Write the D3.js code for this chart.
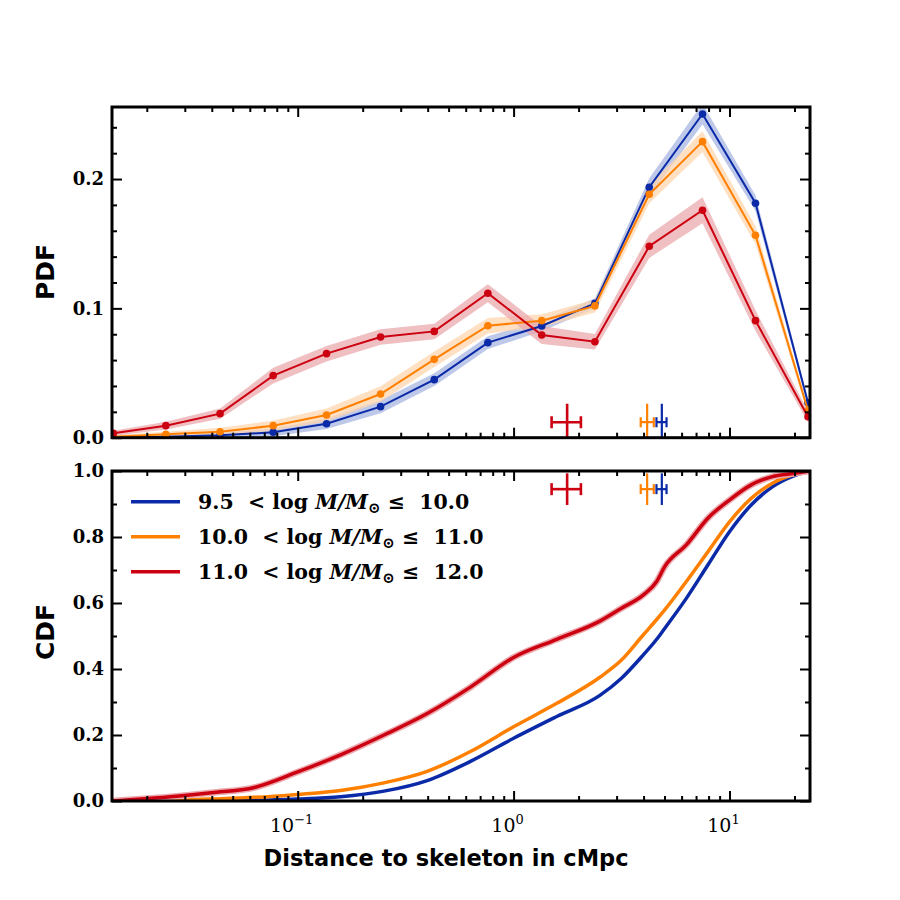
<!DOCTYPE html>
<html>
<head>
<meta charset="utf-8">
<script src="https://cdn.jsdelivr.net/npm/d3@7"></script>
<style>
  body { margin: 0; background: #fff; }
  svg { display: block; }
</style>
</head>
<body>
<div id="chart"></div>
<script>
// PDF bin centres (cMpc)
var pdfX = [0.014, 0.0245, 0.0437, 0.077, 0.136, 0.242, 0.429, 0.76, 1.35, 2.38, 4.25, 7.5, 13.2, 23.1];

// PDF values and 1-sigma half widths per mass bin
var pdfBlue      = [0.0002, 0.0008, 0.0018, 0.0042, 0.0108, 0.024, 0.0449, 0.0735, 0.0864, 0.1039, 0.1937, 0.2503, 0.1813, 0.027];
var pdfBlueErr   = [0.001, 0.001, 0.002, 0.003, 0.004, 0.005, 0.005, 0.005, 0.004, 0.004, 0.007, 0.008, 0.006, 0.003];
var pdfOrange    = [0.0008, 0.0026, 0.0046, 0.0093, 0.0176, 0.0338, 0.0606, 0.0866, 0.0905, 0.1019, 0.1882, 0.2289, 0.1565, 0.021];
var pdfOrangeErr = [0.001, 0.002, 0.003, 0.004, 0.005, 0.006, 0.006, 0.006, 0.005, 0.005, 0.007, 0.008, 0.007, 0.003];
var pdfRed       = [0.0034, 0.0093, 0.0186, 0.048, 0.065, 0.0779, 0.0822, 0.1117, 0.0794, 0.0742, 0.148, 0.1759, 0.0905, 0.0162];
var pdfRedErr    = [0.002, 0.003, 0.004, 0.006, 0.006, 0.006, 0.006, 0.007, 0.007, 0.006, 0.009, 0.01, 0.008, 0.004];

// CDF sample positions (cMpc) and values
var cdfX      = [0.0138, 0.0251, 0.0398, 0.0631, 0.1, 0.158, 0.251, 0.398, 0.631, 1.0, 1.585, 2.51, 3.16, 3.98, 4.6, 5.01, 6.31, 7.94, 10.0, 12.6, 15.8, 20.0, 23.6];
var cdfBlue   = [0, 0, 0.001, 0.002, 0.006, 0.013, 0.03, 0.062, 0.12, 0.19, 0.256, 0.32, 0.372, 0.442, 0.49, 0.523, 0.614, 0.715, 0.816, 0.897, 0.952, 0.986, 1.0];
var cdfOrange = [0, 0.002, 0.006, 0.011, 0.02, 0.032, 0.055, 0.09, 0.15, 0.225, 0.296, 0.375, 0.427, 0.503, 0.55, 0.579, 0.665, 0.755, 0.846, 0.917, 0.963, 0.99, 1.0];
var cdfRed    = [0, 0.012, 0.025, 0.041, 0.088, 0.14, 0.2, 0.265, 0.345, 0.435, 0.49, 0.545, 0.584, 0.624, 0.665, 0.71, 0.776, 0.857, 0.912, 0.958, 0.983, 0.993, 1.0];

// medians with errors (x in cMpc), drawn at fixed heights in each panel
var medX   = [4.86, 4.155, 1.77];
var medXlo = [4.59, 3.88, 1.50];
var medXhi = [5.11, 4.46, 2.05];
var medYpdf = 0.012, medYpdfErr = 0.0142;
var medYcdf = 0.945, medYcdfErr = 0.048;

// legend labels
var binLow  = ["9.5", "10.0", "11.0"];
var binHigh = ["10.0", "11.0", "12.0"];

var colors = ["#0a2aa8", "#ff8000", "#cc0011"];
var bandColors = ["#a8b6e2", "#ffd6ad", "#eba9ad"];

var W = 900, H = 900;
var left = 112, right = 810;
var top1 = 107, bot1 = 437.7, top2 = 471, bot2 = 801;

var svg = d3.select("#chart").append("svg")
    .attr("width", W).attr("height", H)
    .style("font-family", "'DejaVu Serif', serif");

var x = d3.scaleLog().domain([0.0138, 23.6]).range([left, right]);
var yPdf = d3.scaleLinear().domain([0, 0.2557]).range([bot1, top1]);
var yCdf = d3.scaleLinear().domain([0, 1]).range([bot2, top2]);

var defs = svg.append("defs");
defs.append("clipPath").attr("id", "clip1").append("rect")
    .attr("x", left).attr("y", top1).attr("width", right - left).attr("height", bot1 - top1);
defs.append("clipPath").attr("id", "clip2").append("rect")
    .attr("x", left).attr("y", top2).attr("width", right - left).attr("height", bot2 - top2);

// minor x ticks on the log axis
var minorX = [];
[0.01, 0.1, 1, 10].forEach(function(dec) {
  for (var k = 2; k <= 9; k++) {
    var v = dec * k;
    if (v > 0.0138 && v < 23.6) minorX.push(v);
  }
});

function drawTicks(yScale, yMajor, yMinor, showXLabels) {
  var r0 = yScale.range();
  var bottom = r0[0], topY = r0[1];

  // x major / minor, bottom and top
  svg.append("g").attr("transform", "translate(0," + bottom + ")")
    .call(d3.axisBottom(x).tickValues([0.1, 1, 10]).tickSize(-10).tickFormat(""));
  svg.append("g").attr("transform", "translate(0," + bottom + ")")
    .call(d3.axisBottom(x).tickValues(minorX).tickSize(-5).tickFormat(""));
  svg.append("g").attr("transform", "translate(0," + topY + ")")
    .call(d3.axisTop(x).tickValues([0.1, 1, 10]).tickSize(-10).tickFormat(""));
  svg.append("g").attr("transform", "translate(0," + topY + ")")
    .call(d3.axisTop(x).tickValues(minorX).tickSize(-5).tickFormat(""));

  if (showXLabels) {
    var exps = {0.1: "\u22121", 1: "0", 10: "1"};
    [0.1, 1, 10].forEach(function(v) {
      var t = svg.append("text")
        .attr("x", x(v) - 6).attr("y", bottom + 31)
        .attr("text-anchor", "middle")
        .style("font-size", "19px")
        .text("10");
      t.append("tspan").attr("dy", -8).style("font-size", "13px").text(exps[v]);
    });
  }

  // y major / minor, left and right
  svg.append("g").attr("transform", "translate(" + left + ",0)")
    .call(d3.axisLeft(yScale).tickValues(yMajor).tickSize(-10).tickPadding(8).tickFormat(d3.format(".1f")))
    .selectAll("text").style("font-size", "18px").style("font-weight", "bold")
    .style("font-family", "'DejaVu Serif', serif").attr("fill", "#000");
  svg.append("g").attr("transform", "translate(" + left + ",0)")
    .call(d3.axisLeft(yScale).tickValues(yMinor).tickSize(-5).tickFormat(""));
  svg.append("g").attr("transform", "translate(" + right + ",0)")
    .call(d3.axisRight(yScale).tickValues(yMajor).tickSize(-10).tickFormat(""));
  svg.append("g").attr("transform", "translate(" + right + ",0)")
    .call(d3.axisRight(yScale).tickValues(yMinor).tickSize(-5).tickFormat(""));

  svg.selectAll(".domain").remove();
}

// ---------- PDF panel ----------
var pdfSeries = [
  {y: pdfBlue, e: pdfBlueErr},
  {y: pdfOrange, e: pdfOrangeErr},
  {y: pdfRed, e: pdfRedErr}
];

var g1 = svg.append("g").attr("clip-path", "url(#clip1)");

var area1 = d3.area()
  .x(function(d) { return x(d.x); })
  .y0(function(d) { return yPdf(d.y - d.e); })
  .y1(function(d) { return yPdf(d.y + d.e); });
var line1 = d3.line()
  .x(function(d) { return x(d.x); })
  .y(function(d) { return yPdf(d.y); });

pdfSeries.forEach(function(s, i) {
  var pts = pdfX.map(function(v, j) { return {x: v, y: s.y[j], e: s.e[j]}; });
  g1.append("path").datum(pts)
    .attr("d", area1).attr("fill", bandColors[i]).attr("opacity", 0.75);
});
pdfSeries.forEach(function(s, i) {
  var pts = pdfX.map(function(v, j) { return {x: v, y: s.y[j], e: s.e[j]}; });
  g1.append("path").datum(pts)
    .attr("d", line1).attr("fill", "none")
    .attr("stroke", colors[i]).attr("stroke-width", 2);
  g1.selectAll(null).data(pts).enter().append("circle")
    .attr("cx", function(d) { return x(d.x); })
    .attr("cy", function(d) { return yPdf(d.y); })
    .attr("r", 3.8).attr("fill", colors[i]);
});

function drawMedians(g, yScale, yv, ye) {
  [2, 1, 0].forEach(function(i) {
    var c = colors[i];
    var cy = yScale(yv);
    var lw = i === 2 ? 2.6 : 2.2;
    var cap = i === 2 ? 6 : 5;
    g.append("line")
      .attr("x1", x(medXlo[i])).attr("x2", x(medXhi[i]))
      .attr("y1", cy).attr("y2", cy)
      .attr("stroke", c).attr("stroke-width", lw);
    g.append("line")
      .attr("x1", x(medX[i])).attr("x2", x(medX[i]))
      .attr("y1", yScale(yv - ye)).attr("y2", yScale(yv + ye))
      .attr("stroke", c).attr("stroke-width", lw);
    [medXlo[i], medXhi[i]].forEach(function(v) {
      g.append("line")
        .attr("x1", x(v)).attr("x2", x(v))
        .attr("y1", cy - cap).attr("y2", cy + cap)
        .attr("stroke", c).attr("stroke-width", lw);
    });
  });
}
drawMedians(g1, yPdf, medYpdf, medYpdfErr);

drawTicks(yPdf, [0, 0.1, 0.2], [0.02, 0.04, 0.06, 0.08, 0.12, 0.14, 0.16, 0.18, 0.22, 0.24], false);

// ---------- CDF panel ----------
var g2 = svg.append("g").attr("clip-path", "url(#clip2)");
var line2 = d3.line()
  .curve(d3.curveMonotoneX)
  .x(function(d) { return x(d.x); })
  .y(function(d) { return yCdf(d.y); });

var cdfSeries = [cdfBlue, cdfOrange, cdfRed];
cdfSeries.forEach(function(s, i) {
  var pts = cdfX.map(function(v, j) { return {x: v, y: s[j]}; });
  if (i === 2) {
    g2.append("path").datum(pts).attr("d", line2).attr("fill", "none")
      .attr("stroke", bandColors[2]).attr("stroke-width", 6.5);
  }
  g2.append("path").datum(pts).attr("d", line2).attr("fill", "none")
    .attr("stroke", colors[i]).attr("stroke-width", 3.5);
});

drawMedians(g2, yCdf, medYcdf, medYcdfErr);

drawTicks(yCdf, [0, 0.2, 0.4, 0.6, 0.8, 1.0], [0.1, 0.3, 0.5, 0.7, 0.9], true);
svg.selectAll(".tick line").attr("stroke", "#000").attr("stroke-width", 2);

// spines
[[top1, bot1], [top2, bot2]].forEach(function(p) {
  svg.append("rect")
    .attr("x", left).attr("y", p[0])
    .attr("width", right - left).attr("height", p[1] - p[0])
    .attr("fill", "none").attr("stroke", "#000").attr("stroke-width", 3);
});

// legend
var legend = svg.append("g");
binLow.forEach(function(lo, i) {
  var ly = 501.7 + i * 35;
  legend.append("line")
    .attr("x1", 131).attr("x2", 180).attr("y1", ly).attr("y2", ly)
    .attr("stroke", colors[i]).attr("stroke-width", 3.5);
  var t = legend.append("text")
    .attr("x", 198).attr("y", ly + 7)
    .style("font-size", "20.5px").style("font-weight", "bold")
    .attr("xml:space", "preserve");
  t.append("tspan").text(lo + "  < log ");
  t.append("tspan").style("font-style", "italic").text("M/M");
  t.append("tspan").attr("dy", 4).style("font-size", "15px").text("\u2299");
  t.append("tspan").attr("dy", -4).text(" \u2264  " + binHigh[i]);
});

// axis titles
svg.append("text")
  .attr("transform", "translate(54,272) rotate(-90)")
  .attr("text-anchor", "middle")
  .style("font-family", "'DejaVu Sans', sans-serif")
  .style("font-weight", "bold").style("font-size", "25px")
  .text("PDF");
svg.append("text")
  .attr("transform", "translate(54,632) rotate(-90)")
  .attr("text-anchor", "middle")
  .style("font-family", "'DejaVu Sans', sans-serif")
  .style("font-weight", "bold").style("font-size", "25px")
  .text("CDF");
svg.append("text")
  .attr("x", 446).attr("y", 866)
  .attr("text-anchor", "middle")
  .style("font-family", "'DejaVu Sans', sans-serif")
  .style("font-weight", "bold").style("font-size", "22.5px")
  .text("Distance to skeleton in cMpc");
</script>
</body>
</html>
